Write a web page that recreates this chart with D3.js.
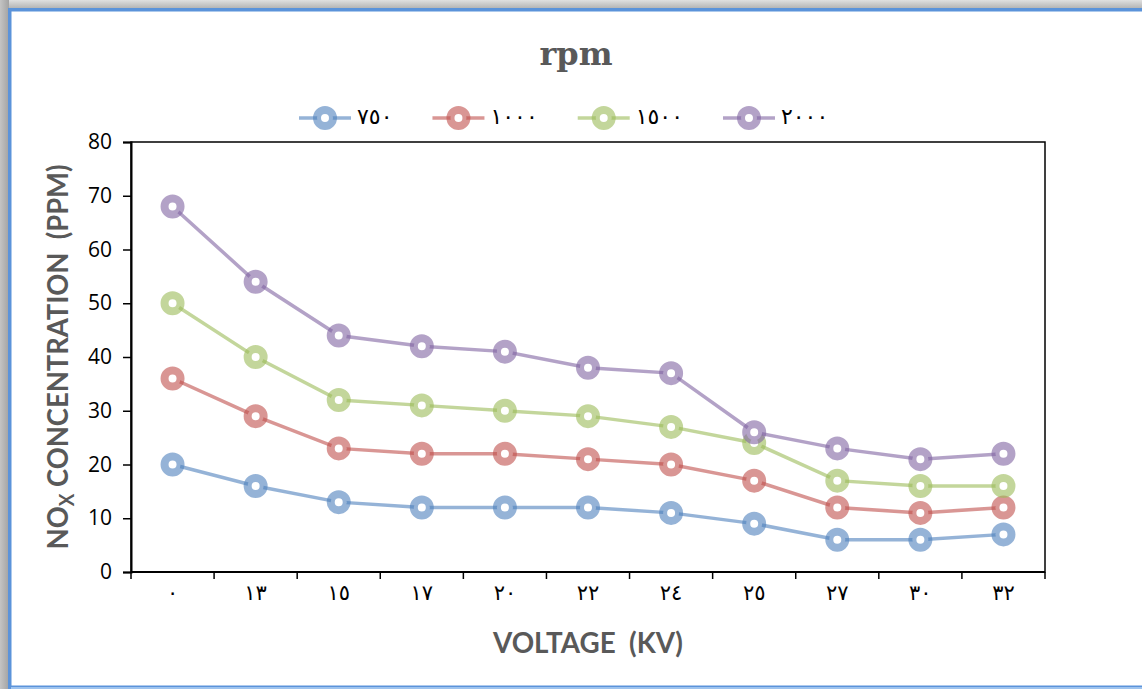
<!DOCTYPE html>
<html><head><meta charset="utf-8">
<script src="https://cdn.jsdelivr.net/npm/d3@7"></script>
<style>body{margin:0;background:#fff;} svg{display:block} text{white-space:pre}</style>
</head><body><svg id="c" width="1142" height="689"></svg>
<script>
const categories = ["٠","١٣","١٥","١٧","٢٠","٢٢","٢٤","٢٥","٢٧","٣٠","٣٢"];
const rpm750  = [20,16,13,12,12,12,11,9,6,6,7];
const rpm1000 = [36,29,23,22,22,21,20,17,12,11,12];
const rpm1500 = [50,40,32,31,30,29,27,24,17,16,16];
const rpm2000 = [68,54,44,42,41,38,37,26,23,21,22];
const seriesNames = ["٧٥٠","١٠٠٠","١٥٠٠","٢٠٠٠"];
const seriesColors = ["#4F81BD","#C0504D","#9BBB59","#8064A2"];
const yTicks = [0,10,20,30,40,50,60,70,80];
const titleText = "rpm";
const xTitle = "VOLTAGE  (KV)";

const series = [rpm750, rpm1000, rpm1500, rpm2000].map((v,i)=>({name:seriesNames[i], color:seriesColors[i], values:v}));

const W=1142, H=689;
const m = {left:131, right:1045, top:142, bottom:572};
const svg = d3.select("#c");

// frame
const defs = svg.append("defs");
const gl = defs.append("linearGradient").attr("id","gL").attr("x1","0").attr("x2","1").attr("y1","0").attr("y2","0");
gl.append("stop").attr("offset","0").attr("stop-color","#c4c4c4");
gl.append("stop").attr("offset","1").attr("stop-color","#a2a2a2");
const gt = defs.append("linearGradient").attr("id","gT").attr("x1","0").attr("x2","0").attr("y1","0").attr("y2","1");
gt.append("stop").attr("offset","0").attr("stop-color","#e0e0e0");
gt.append("stop").attr("offset","1").attr("stop-color","#b0b0b0");
svg.append("rect").attr("x",0).attr("y",0).attr("width",W).attr("height",9).attr("fill","url(#gT)");
svg.append("rect").attr("x",0).attr("y",0).attr("width",9).attr("height",H).attr("fill","url(#gL)");
svg.append("rect").attr("x",9.75).attr("y",9.75).attr("width",W+20).attr("height",H-11.5)
  .attr("fill","#fff").attr("stroke","#5B93DA").attr("stroke-width",3.5);
svg.append("line").attr("x1",11).attr("x2",W).attr("y1",688).attr("y2",688).attr("stroke","#9EC3EE").attr("stroke-width",2);

const x = d3.scaleBand().domain(categories).range([m.left,m.right]);
const y = d3.scaleLinear().domain([0,80]).range([m.bottom,m.top]);
const cx = c => x(c)+x.bandwidth()/2;

// plot border
svg.append("rect").attr("x",m.left).attr("y",m.top).attr("width",m.right-m.left).attr("height",m.bottom-m.top)
  .attr("fill","none").attr("stroke","#000").attr("stroke-width",1.5);

// y axis
const yAxis = svg.append("g").attr("transform",`translate(${m.left},0)`)
  .call(d3.axisLeft(y).tickValues(yTicks).tickSize(8).tickPadding(11));
yAxis.select(".domain").attr("stroke","#000").attr("stroke-width",2);
yAxis.selectAll(".tick line").attr("stroke","#000").attr("stroke-width",1.5);
yAxis.selectAll(".tick text").attr("font-family","'Open Sans', sans-serif").attr("font-size",21).attr("fill","#000");

// x axis (ticks at category boundaries)
const xAxis = svg.append("g").attr("transform",`translate(0,${m.bottom})`);
xAxis.append("line").attr("x1",m.left).attr("x2",m.right).attr("stroke","#000").attr("stroke-width",2);
const bounds = categories.map(c=>x(c)).concat([x.range()[1]]);
xAxis.selectAll("line.t").data(bounds).join("line").attr("class","t")
  .attr("x1",d=>d).attr("x2",d=>d).attr("y1",0).attr("y2",7).attr("stroke","#000").attr("stroke-width",1.5);
xAxis.selectAll("text").data(categories).join("text")
  .attr("x",d=>cx(d)).attr("y",28).attr("text-anchor","middle")
  .attr("font-family","'DejaVu Sans', sans-serif").attr("font-size",21)
  .attr("fill","#000").text(d=>d);

// series
const line = d3.line().x((d,i)=>cx(categories[i])).y(d=>y(d));
series.forEach(s=>{
  const g = svg.append("g");
  g.append("path").attr("d",line(s.values)).attr("fill","none")
    .attr("stroke",s.color).attr("stroke-opacity",0.6).attr("stroke-width",3.5);
  g.selectAll("circle").data(s.values).join("circle")
    .attr("cx",(d,i)=>cx(categories[i])).attr("cy",d=>y(d)).attr("r",8)
    .attr("fill","#fff").attr("stroke",s.color).attr("stroke-opacity",0.6).attr("stroke-width",8);
});

// title
svg.append("text").attr("x",(m.left+m.right)/2 - 12).attr("y",65).attr("text-anchor","middle")
  .attr("font-family","'DejaVu Serif', serif").attr("font-weight","bold").attr("font-size",32)
  .attr("fill","#595959").text(titleText);

// legend
let lx = 299;
const ly = 118;
series.forEach(s=>{
  const g = svg.append("g");
  g.append("line").attr("x1",lx).attr("x2",lx+52).attr("y1",ly).attr("y2",ly)
    .attr("stroke",s.color).attr("stroke-opacity",0.6).attr("stroke-width",3.5);
  g.append("circle").attr("cx",lx+26).attr("cy",ly).attr("r",8).attr("fill","#fff")
    .attr("stroke",s.color).attr("stroke-opacity",0.6).attr("stroke-width",8);
  const tx = g.append("text").attr("x",lx+58).attr("y",ly+6)
    .attr("font-family","'DejaVu Sans', sans-serif").attr("font-size",22)
    .attr("fill","#000").text(s.name);
  const w = tx.node().getComputedTextLength();
  lx = lx + 58 + w + 40;
});

// x title
svg.append("text").attr("x",(m.left+m.right)/2).attr("y",653).attr("text-anchor","middle")
  .attr("font-family","Lato, sans-serif").attr("font-weight","bold").attr("font-size",29)
  .attr("fill","#595959").attr("textLength",190).attr("lengthAdjust","spacingAndGlyphs").text(xTitle);

// y title
const ytg = svg.append("g");
const yt = ytg.append("text").attr("text-anchor","middle")
  .attr("font-family","Lato, sans-serif").attr("font-weight","bold").attr("font-size",29).attr("fill","#595959");
yt.append("tspan").text("NO");
yt.append("tspan").attr("font-size",20).attr("dy",6).text("X");
yt.append("tspan").attr("dy",-6).text(" CONCENTRATION  (PPM)");
{
  const w = yt.node().getBBox().width;
  const sx = 385/w;
  ytg.attr("transform",`translate(68,${(m.top+m.bottom)/2}) rotate(-90) scale(${sx},1)`);
}
</script></body></html>
